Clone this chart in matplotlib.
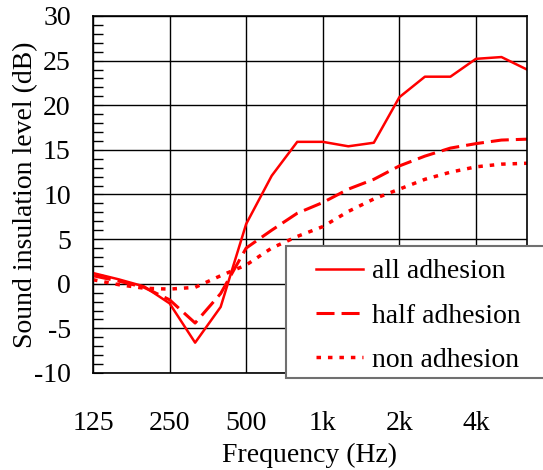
import matplotlib
matplotlib.use('Agg')
import matplotlib.pyplot as plt
import numpy as np
from matplotlib.patches import Rectangle

plt.rcParams['font.family'] = ['Liberation Serif', 'DejaVu Serif']
plt.rcParams['font.size'] = 20
plt.rcParams['axes.unicode_minus'] = False

# 1/3 octave bands, 125 Hz .. 6.3 kHz
bands = [125, 160, 200, 250, 315, 400, 500, 630, 800, 1000,
         1250, 1600, 2000, 2500, 3150, 4000, 5000, 6300]
octave_labels = ['125', '250', '500', '1k', '2k', '4k']

all_adhesion = [1.2, 0.5, -0.3, -2.2, -6.6, -2.6, 6.7, 12.1, 15.9, 15.9,
                15.4, 15.8, 20.9, 23.2, 23.2, 25.2, 25.4, 24.0]
half_adhesion = [0.9, 0.3, -0.4, -1.8, -4.4, -1.1, 4.0, 6.0, 7.9, 9.1,
                 10.6, 11.7, 13.2, 14.3, 15.2, 15.7, 16.1, 16.2]
non_adhesion = [0.45, -0.1, -0.5, -0.6, -0.4, 0.9, 2.1, 4.0, 5.3, 6.4,
                8.1, 9.5, 10.6, 11.7, 12.5, 13.1, 13.4, 13.5]

W, H = 543, 470
fig = plt.figure(figsize=(W / 100, H / 100), dpi=100)
ax = fig.add_axes([93 / W, 1 - 373 / H, (527 - 93) / W, (373 - 16) / H])

x = np.arange(len(bands))
l1, = ax.plot(x, all_adhesion, color='#ff0000', lw=1.8, label='all adhesion')
l2, = ax.plot(x, half_adhesion, color='#ff0000', lw=2.2, dashes=(5.9, 2.3),
              label='half adhesion')
l3, = ax.plot(x, non_adhesion, color='#ff0000', lw=2.5, dashes=(1.3, 2.0),
              label='non adhesion')

ax.set_xlim(0, len(bands) - 1)
ax.set_ylim(-10, 30)

# octave positions: labels + vertical grid
octave_idx = [bands.index(f) for f in (125, 250, 500, 1000, 2000, 4000)]
ax.set_xticks(octave_idx)
ax.set_xticklabels(octave_labels)
ax.tick_params(axis='x', which='both', length=0, pad=27)
ax.grid(True, axis='x', which='major', color='black', lw=1)

ax.set_yticks(np.arange(-10, 31, 5))
ax.set_yticks(np.arange(-10, 31, 1), minor=True)
ax.tick_params(axis='y', which='major', direction='in', length=7, pad=16)
ax.tick_params(axis='y', which='minor', direction='in', length=7, width=1)
ax.grid(True, axis='y', which='major', color='black', lw=1)

for s in ax.spines.values():
    s.set_linewidth(1.2)

ax.set_xlabel('Frequency (Hz)', labelpad=5)
ax.set_ylabel('Sound insulation level (dB)', labelpad=-3)

# legend box (runs past the right edge like the original)
box = Rectangle((286 / W, 1 - 378 / H), 0.5, (378 - 246) / H,
                transform=fig.transFigure, facecolor='white',
                edgecolor='#707070', lw=1.5, zorder=3)
fig.patches.append(box)
fig.legend(handles=[l1, l2, l3], loc='upper left',
           bbox_to_anchor=(302 / W, 1 - 245 / H), frameon=False,
           borderpad=0.0, handlelength=1.7, handletextpad=0.32,
           labelspacing=0.68, fontsize=20).set_zorder(5)

fig.savefig('out.png', dpi=100)
